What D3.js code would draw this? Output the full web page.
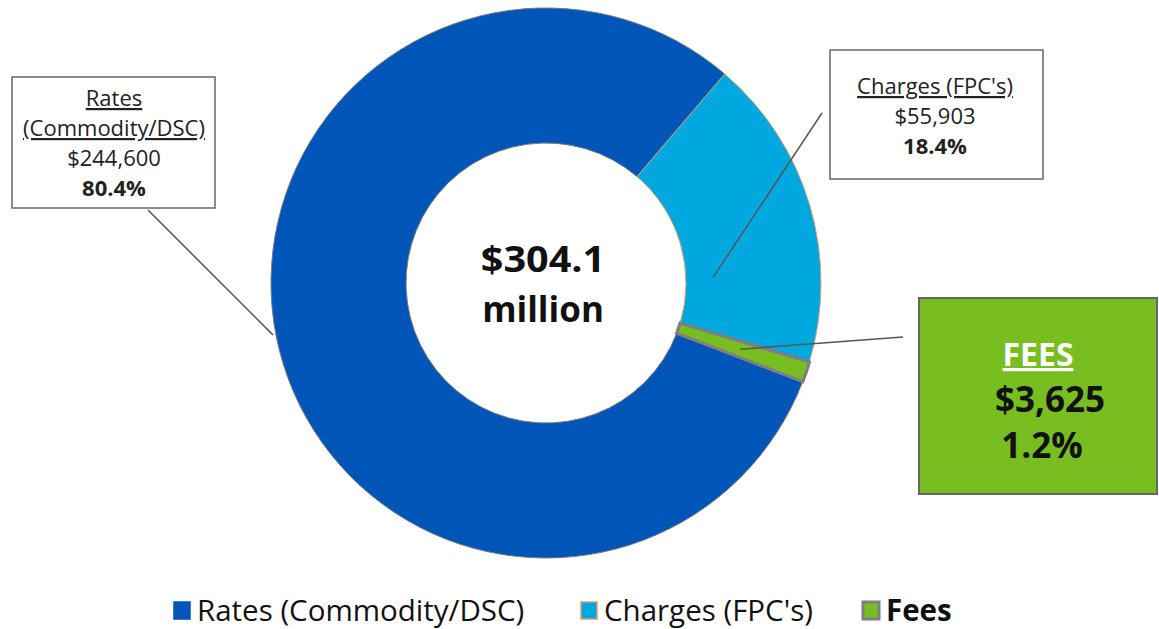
<!DOCTYPE html>
<html><head><meta charset="utf-8">
<script src="https://cdn.jsdelivr.net/npm/d3@7"></script>
<style>body{margin:0;background:#fff;} svg{display:block;font-family:"Open Sans",Lato,sans-serif;}</style>
</head><body>
<svg id="c" width="1159" height="629"></svg>
<script>
const categories = ["Rates (Commodity/DSC)", "Charges (FPC's)", "Fees"];
const values = [244600, 55903, 3625];
const valueLabels = ["$244,600", "$55,903", "$3,625"];
const pctLabels = ["80.4%", "18.4%", "1.2%"];
const totalLabel = ["$304.1", "million"];
const colors = ["#0055B8", "#00A8E0", "#78BE20"];
const strokes = ["#7a7a7a", "#d9a066", "#7f7f7f"];
const strokeW = [1, 1, 3];

const svg = d3.select("#c");
const cx = 546, cy = 283, R = 275, r = 140;
const start = 111 * Math.PI / 180;
const pie = d3.pie().sort(null).value(d => d).startAngle(start).endAngle(start + 2 * Math.PI);
const arcs = pie(values);
const arc = d3.arc().innerRadius(r).outerRadius(R);
const g = svg.append("g").attr("transform", `translate(${cx},${cy})`);
g.selectAll("path").data(arcs).join("path")
  .attr("d", arc).attr("fill", (d, i) => colors[i])
  .attr("stroke", (d, i) => strokes[i]).attr("stroke-width", (d, i) => strokeW[i]);
g.append("path").attr("d", arc(arcs[2])).attr("fill", colors[2]).attr("stroke", strokes[2]).attr("stroke-width", 3);

g.append("text").attr("text-anchor", "middle").attr("transform", "translate(-3,-11) scale(1.1,1)").attr("font-size", 36).attr("font-weight", "bold").attr("fill", "#111").text(totalLabel[0]);
g.append("text").attr("text-anchor", "middle").attr("transform", "translate(-3,39)").attr("font-size", 35).attr("font-weight", "bold").attr("fill", "#111").text(totalLabel[1]);

function polar(a, rad) { return [cx + rad * Math.sin(a), cy - rad * Math.cos(a)]; }
const along = (i, f) => arcs[i].startAngle + f * (arcs[i].endAngle - arcs[i].startAngle);
const leaders = [
  { from: [148, 210], to: polar(along(0, 0.512), 278) },
  { from: [822, 113], to: polar(along(1, 0.72), 167) },
  { from: [903, 337], to: polar(along(2, 0.5), 205) }
];
leaders.forEach(l => svg.append("line").attr("x1", l.from[0]).attr("y1", l.from[1]).attr("x2", l.to[0]).attr("y2", l.to[1]).attr("stroke", "#555").attr("stroke-width", 1.5));

svg.append("rect").attr("x", 12).attr("y", 77).attr("width", 203).attr("height", 131).attr("fill", "#fff").attr("stroke", "#666").attr("stroke-width", 1.5);
const rb = svg.append("g").attr("font-size", 22).attr("fill", "#222").attr("text-anchor", "middle");
rb.append("text").attr("x", 114).attr("y", 106).attr("text-decoration", "underline").text("Rates");
rb.append("text").attr("x", 114).attr("y", 136).attr("text-decoration", "underline").text("(Commodity/DSC)");
rb.append("text").attr("x", 114).attr("y", 166).text(valueLabels[0]);
rb.append("text").attr("x", 114).attr("y", 196).attr("font-weight", "bold").text(pctLabels[0]);

svg.append("rect").attr("x", 830).attr("y", 50).attr("width", 213).attr("height", 129).attr("fill", "#fff").attr("stroke", "#666").attr("stroke-width", 1.5);
const cb = svg.append("g").attr("font-size", 22).attr("fill", "#222").attr("text-anchor", "middle");
cb.append("text").attr("x", 935).attr("y", 94).attr("text-decoration", "underline").text(categories[1]);
cb.append("text").attr("x", 935).attr("y", 124).text(valueLabels[1]);
cb.append("text").attr("x", 935).attr("y", 154).attr("font-weight", "bold").text(pctLabels[1]);

svg.append("rect").attr("x", 919).attr("y", 298).attr("width", 238).attr("height", 196).attr("fill", colors[2]).attr("stroke", "#666").attr("stroke-width", 2);
const fb = svg.append("g").attr("font-weight", "bold").attr("text-anchor", "middle");
fb.append("text").attr("x", 1038).attr("y", 366).attr("font-size", 32).attr("fill", "#fff").attr("text-decoration", "underline").text("FEES");
fb.append("text").attr("x", 1050).attr("y", 412).attr("font-size", 35).attr("fill", "#111").text(valueLabels[2]);
fb.append("text").attr("x", 1042).attr("y", 458).attr("font-size", 35).attr("fill", "#111").text(pctLabels[2]);

const legX = [174, 581, 863];
const lg = svg.append("g");
categories.forEach((c, i) => {
  lg.append("rect").attr("x", legX[i]).attr("y", 602).attr("width", 16).attr("height", 17)
    .attr("fill", colors[i]).attr("stroke", i === 0 ? colors[0] : strokes[i]).attr("stroke-width", i === 2 ? 3 : 1.5);
  lg.append("text").attr("x", legX[i] + 23).attr("y", 621).attr("font-size", 29.5).attr("fill", "#111")
    .attr("font-weight", i === 2 ? "bold" : "normal").text(c);
});
</script>
</body></html>
